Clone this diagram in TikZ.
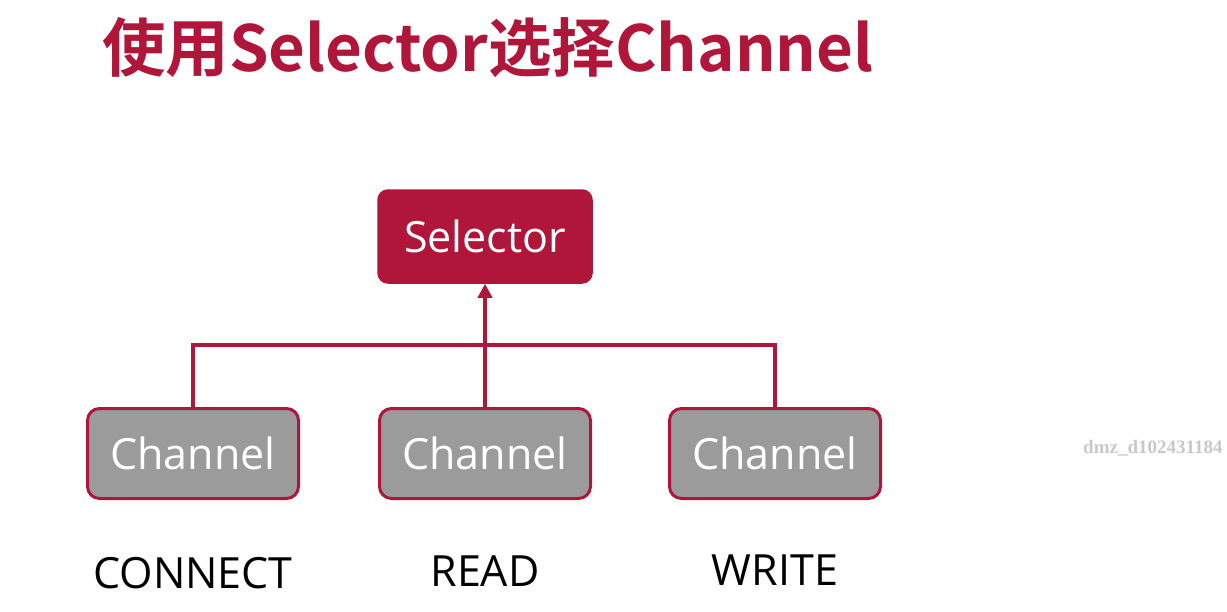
\documentclass[tikz,border=0pt]{standalone}
\usepackage{fontspec}
\setmainfont{Open Sans}
\newfontfamily\cjkbold{Noto Sans CJK SC}[BoldFont=* Bold]
\newfontfamily\wmfont{Liberation Serif}
\usetikzlibrary{arrows.meta}
\definecolor{myred}{RGB}{176,22,58}
\definecolor{mygray}{RGB}{155,155,155}
\definecolor{wmgray}{RGB}{200,200,200}
\begin{document}
\begin{tikzpicture}[x=1pt,y=-1pt,
  selbox/.style={draw=myred,fill=myred,line width=1.5pt,rounded corners=10pt,minimum width=214pt,minimum height=93pt,text=white,font=\fontsize{43}{46}\selectfont,inner sep=0pt},
  chbox/.style={draw=myred,fill=mygray,line width=3pt,rounded corners=12pt,minimum width=211pt,minimum height=90pt,text=white,font=\fontsize{43}{46}\selectfont,inner sep=0pt},
  lbl/.style={text=black,font=\fontsize{43}{46}\selectfont,inner sep=0pt},
  conn/.style={draw=myred,line width=4pt}
]
\useasboundingbox (0,0) rectangle (1227,611);
\node[anchor=west,text=myred,inner sep=0pt,font=\cjkbold\bfseries\fontsize{63.5}{66}\selectfont] (title) at (102,48) {使用Selector选择Channel};
\node[selbox] (sel) at (485,236.5) {Selector};
\node[chbox] (c1) at (193,453.5) {Channel};
\node[chbox] (c2) at (485,453.5) {Channel};
\node[chbox] (c3) at (775,453.5) {Channel};
\coordinate (hl) at (193,345);
\coordinate (hr) at (775,345);
\draw[conn] (c1.north) -- (hl) -- (hr) -- (c3.north);
\draw[conn,-{Triangle[length=14pt,width=14pt]}] (c2.north) -- (sel.south);
\node[lbl] (l1) at (193,573) {CONNECT};
\node[lbl] (l2) at (485,571) {READ};
\node[lbl] (l3) at (775,570) {WRITE};
\node[anchor=west,text=wmgray,inner sep=0pt,font=\wmfont\bfseries\fontsize{19}{22}\selectfont] (wm) at (1083,448) {dmz\_d102431184};
\end{tikzpicture}
\end{document}
